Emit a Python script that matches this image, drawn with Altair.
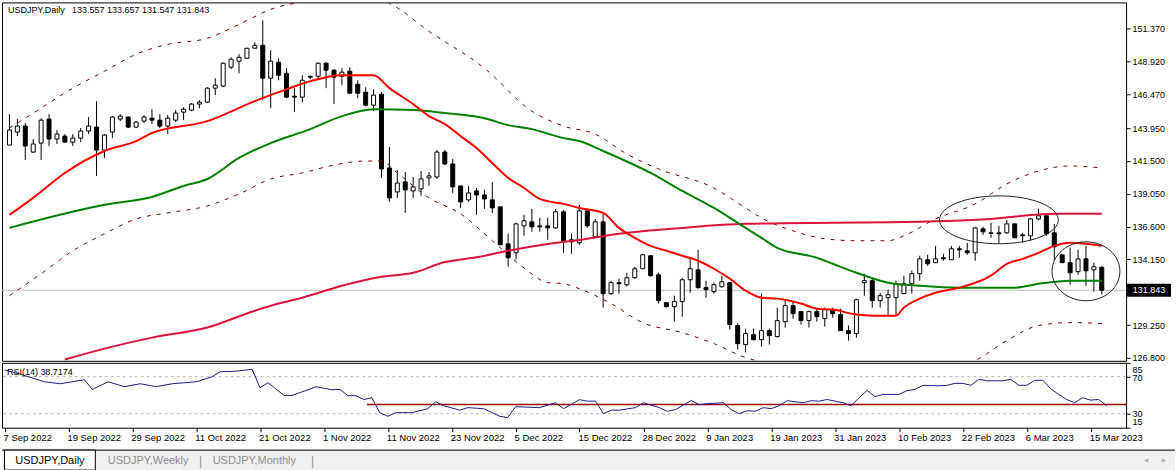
import json
import altair as alt
import pandas as pd

# ---------------- data ----------------
bars = list(range(139))
opens = [142.68,143.65,144.10,142.16,142.83,144.62,143.13,143.35,142.90,143.20,
         143.73,144.02,142.31,143.65,144.62,144.77,144.02,144.47,144.69,144.54,
         144.10,144.54,145.14,145.29,145.74,145.88,146.93,147.08,148.49,148.94,
         149.16,149.91,150.13,147.67,148.86,148.04,146.33,146.26,147.82,147.82,
         148.79,148.27,147.82,148.19,147.22,146.63,145.66,146.48,140.97,139.18,
         139.93,139.26,139.41,140.23,140.30,142.16,141.27,139.63,138.59,139.26,
         138.96,138.59,138.07,135.31,134.64,136.65,136.95,136.65,136.65,136.50,
         137.70,135.61,135.39,137.77,135.83,136.95,131.59,132.41,132.26,132.78,
         133.45,134.42,133.00,130.92,130.62,131.00,132.63,133.37,132.04,131.74,
         132.11,132.41,129.21,127.79,128.53,128.16,128.83,128.39,129.50,130.70,
         130.25,129.58,130.25,129.73,130.40,130.03,128.83,128.61,132.41,132.56,
         131.07,131.29,131.29,131.59,132.33,133.08,134.12,133.90,134.27,134.12,
         134.94,134.79,134.64,136.43,136.13,136.13,136.13,136.80,135.98,135.91,
         137.17,137.40,136.13,134.49,133.90,133.23,134.19,133.37,133.557]
highs = [144.99,144.62,144.32,143.13,144.69,144.99,143.80,143.50,143.50,143.95,
         144.77,145.96,143.50,144.84,144.99,144.84,144.47,144.92,145.36,144.99,
         144.92,145.29,145.51,145.81,146.03,147.00,147.67,148.86,149.23,149.46,
         149.91,150.35,151.99,149.76,149.16,148.42,146.93,147.89,147.82,148.86,
         148.86,148.34,148.42,148.49,147.52,147.00,146.85,146.63,142.53,140.82,
         140.67,140.30,140.75,140.67,142.31,142.31,141.64,139.63,139.63,139.48,
         139.33,139.93,138.07,136.06,136.88,137.47,137.92,137.25,137.25,137.92,
         137.84,136.06,138.22,137.77,137.17,137.55,132.56,132.71,133.15,133.60,
         134.57,134.42,133.15,130.92,131.44,132.78,134.19,134.86,132.56,132.41,
         132.93,132.41,129.36,128.98,128.98,131.59,128.98,130.55,131.07,131.07,
         130.25,130.32,130.47,130.55,130.55,130.47,129.21,131.22,133.08,132.78,
         131.66,131.89,132.56,132.93,133.30,134.42,134.49,135.16,134.57,135.16,
         135.16,135.39,136.58,136.58,136.88,136.65,137.10,136.80,136.13,137.25,
         137.92,137.40,136.80,134.49,135.01,134.86,135.16,133.90,133.657]
lows = [142.68,143.35,141.57,142.09,141.57,142.61,142.76,142.90,142.61,142.90,
        143.50,140.38,141.72,143.20,144.47,143.95,143.95,144.32,144.25,143.95,
        143.50,144.40,144.54,145.21,145.44,145.81,146.41,147.00,148.34,148.04,
        149.16,149.91,146.03,145.44,147.52,146.18,145.14,145.88,147.60,147.60,
        146.93,145.74,147.15,146.48,146.18,145.59,145.21,140.23,138.44,138.74,
        137.62,138.74,138.89,139.63,140.15,141.19,139.11,137.99,138.44,137.47,
        137.92,137.62,135.24,133.60,134.12,135.91,136.21,136.21,135.61,136.43,
        134.64,134.57,135.24,136.50,135.76,130.55,131.51,131.59,132.11,132.71,
        133.45,132.85,130.85,130.55,129.50,129.88,131.66,131.96,131.29,131.59,
        132.04,128.91,127.42,127.20,128.09,127.64,127.79,128.31,129.06,129.73,
        129.28,129.06,129.50,129.13,129.80,128.83,128.09,128.31,131.44,130.55,
        130.55,129.95,129.95,131.59,131.59,132.56,133.67,133.90,134.05,134.12,
        134.27,134.49,134.05,135.98,135.76,135.31,136.06,135.76,135.39,135.54,
        137.10,135.91,134.05,133.90,132.26,133.00,132.18,131.74,131.547]
closes = [143.80,144.10,142.61,142.76,144.54,143.13,143.50,142.90,143.20,143.73,
          144.10,142.31,143.43,144.77,144.84,144.02,144.40,144.77,144.54,144.10,
          144.69,145.07,145.36,145.74,145.88,146.93,147.15,148.79,149.09,149.23,
          149.91,150.13,147.67,148.94,147.89,146.26,146.26,147.52,147.75,148.79,
          148.27,147.75,148.12,146.55,146.55,145.66,146.41,140.90,138.74,139.85,
          139.33,139.56,140.15,140.38,142.16,141.27,139.56,138.44,139.11,138.96,
          138.66,137.99,135.24,134.27,136.80,137.03,136.58,136.58,136.50,137.70,
          135.54,135.46,137.77,136.65,136.95,131.59,132.41,132.33,132.78,133.45,
          134.49,132.93,131.07,130.62,131.00,132.63,133.45,132.04,131.89,132.26,
          132.48,129.28,127.86,128.61,128.16,128.83,128.46,129.58,130.70,130.10,
          129.58,130.25,129.88,130.40,130.10,128.83,128.61,131.14,132.56,131.07,
          131.44,131.51,132.33,132.33,133.08,134.19,133.82,134.19,134.19,134.94,
          134.86,134.64,136.50,136.21,136.08,136.06,136.80,135.76,135.91,137.17,
          137.40,136.06,135.09,133.90,133.15,134.19,133.30,133.60,131.843]

date_ticks = list(range(0, 137, 8))
date_labels = ["7 Sep 2022", "19 Sep 2022", "29 Sep 2022", "11 Oct 2022", "21 Oct 2022",
               "1 Nov 2022", "11 Nov 2022", "23 Nov 2022", "5 Dec 2022", "15 Dec 2022",
               "28 Dec 2022", "9 Jan 2023", "19 Jan 2023", "31 Jan 2023", "10 Feb 2023",
               "22 Feb 2023", "6 Mar 2023", "15 Mar 2023"]
price_ticks = [126.8, 129.25, 134.15, 136.6, 139.05, 141.5, 143.95, 146.47, 148.92, 151.37]

red_bar = [0,3,7,12,16,18,25,31,34,38,42,46,48,51,53,55,57,59,61,63,65,67,70,72,75,77,79,81,
           83,85,87,89,91,93,95,97,100,102,104,107,109,112,113,115,117,120,124,126,128,130,
           132,134,136,138]
red_val = [137.47,138.74,140.60,142.24,142.98,143.58,144.47,145.96,146.63,147.45,147.89,
           147.89,146.93,145.74,144.84,144.25,143.35,142.46,141.34,140.23,139.48,138.66,
           138.29,137.99,137.62,136.50,135.76,135.16,134.79,134.42,134.05,133.45,132.71,
           131.81,131.29,131.22,130.85,130.47,130.40,130.03,129.95,129.95,130.55,131.22,
           131.66,132.04,132.93,133.82,134.19,134.64,135.16,135.39,135.31,135.16]
green_bar = [0,12,18,22,25,29,33,38,42,46,51,55,60,63,66,70,72,75,81,85,89,92,95,97,102,104,
             107,111,115,120,124,127,130,134,138]
green_val = [136.50,138.22,138.81,139.63,140.15,141.72,142.83,143.87,144.84,145.36,145.29,
             145.07,144.69,144.17,143.87,143.20,142.98,142.24,140.60,139.26,137.99,136.88,
             135.76,135.01,134.27,133.82,133.15,132.41,132.18,132.04,132.04,132.04,132.33,
             132.56,132.56]
ma200_bar = [7,12,18,25,31,34,37,42,47,51,55,59,63,68,72,77,85,93,104,111,124,132,138]
ma200_val = [126.67,127.49,128.31,129.06,130.32,130.85,131.29,132.18,132.85,133.15,133.95,
             134.30,134.80,135.30,135.60,136.06,136.50,136.80,136.88,136.92,137.17,137.55,
             137.55]
upper_bar = [0,4,8,12,16,20,25,29,33,37,40,42,45,48,53,60,66,70,74,78,82,89,93,95,99,103,
             107,111,113,117,122,126,130,134,138]
upper_val = [143.95,145.44,146.93,148.19,149.46,150.20,150.65,151.69,152.81,153.40,153.80,
             153.95,153.80,153.26,151.17,148.42,145.21,144.10,143.50,142.01,140.90,139.48,
             137.99,137.25,136.28,135.69,135.54,135.54,135.91,137.17,138.29,139.78,140.75,
             141.12,140.97]
lower_bar = [0,4,8,12,16,20,25,29,33,37,41,45,47,49,53,57,61,65,68,70,72,76,80,85,89,93,97,
             102,107,112,117,122,126,130,134,138]
lower_val = [131.44,133.08,134.79,136.06,137.17,137.62,138.14,139.03,140.15,140.60,141.19,
             141.49,141.49,140.60,138.74,137.55,135.54,133.52,132.41,132.33,131.96,130.85,
             129.43,128.68,127.86,126.82,126.30,125.90,125.80,125.70,125.90,126.60,128.09,
             129.21,129.43,129.36]

rsi_bar = [0,2,5,7,10,11,13,15,17,19,21,24,26,27,29,31,32,33,35,36,38,39,41,42,43,44,45,46,
           47,48,49,51,53,54,55,57,58,60,62,63,64,67,69,70,72,73,74,75,76,77,79,80,82,83,84,
           86,87,88,90,91,92,93,94,95,96,97,98,100,101,102,103,105,106,107,108,109,110,112,
           113,114,115,117,118,119,120,121,122,123,125,126,127,128,129,130,131,132,133,134,
           135,136,137,138]
rsi_val = [77.4,72.6,64.5,62.4,66.7,56.3,64.5,59.2,62.4,59.2,62.4,64.5,69.9,75.3,75.9,78.0,
           58.1,63.5,49.8,49.8,55.9,59.2,55.9,56.3,49.5,49.5,45.4,47.3,31.0,27.3,31.2,31.2,
           35.5,43.0,38.7,33.9,36.6,35.5,27.3,25.8,37.6,36.6,41.9,35.5,45.2,43.6,43.6,30.1,
           33.9,33.9,36.6,41.9,36.6,32.7,34.4,44.3,39.8,40.9,41.9,34.4,30.1,33.3,32.7,36.6,
           35.5,38.7,44.1,41.9,44.1,43.6,45.4,41.9,38.7,47.3,55.2,48.4,50.9,50.9,54.9,56.3,
           60.7,60.2,60.7,62.8,62.8,60.7,67.1,65.6,65.6,67.1,60.7,60.7,66.1,66.1,57.0,50.9,
           45.4,41.9,47.3,44.7,45.4,38.72]
rsi_levels = [30, 70]
rsi_trend_start = [45.4]
rsi_trend_level = [40]

ellipse1 = {"bar": [125], "price": [137.10]}
ellipse2 = {"bar": [136], "price": [133.26]}

last_close = 131.843
ohlc_text = "USDJPY,Daily\u00a0\u00a0 133.557 133.657 131.547 131.843"
rsi_text = "RSI(14) 38.7174"
tab_labels = ["USDJPY,Daily", "USDJPY,Weekly", "USDJPY,Monthly"]

# ---------------- chart ----------------
W = 1126
H_MAIN = 359
H_RSI = 65
FONT = "Liberation Sans"
X_DOM = [-0.3125, 140.4375]

xs = alt.Scale(domain=X_DOM, nice=False, zero=False)
ys = alt.Scale(domain=[126.58, 153.33], nice=False, zero=False)
price_axis = alt.Axis(orient="right", values=price_ticks, format=".3f", tickSize=4,
                      tickColor="black", labelPadding=2, domain=False, grid=False, title=None,
                      labelFont=FONT, labelFontSize=9, labelColor="black",
                      labelOverlap=False, labelFlush=False)


def X(field="bar"):
    return alt.X(f"{field}:Q", scale=xs, axis=None)


def Y(field):
    return alt.Y(f"{field}:Q", scale=ys, axis=price_axis)


one = alt.Data(values=[{"a": 0}])

cdf = pd.DataFrame({"bar": bars, "open": opens, "high": highs, "low": lows, "close": closes})

wicks = alt.Chart(cdf).mark_rule(color="black", strokeWidth=1).encode(
    x=X(), y=Y("low"), y2=alt.Y2("high:Q"))
bodies = alt.Chart(cdf).mark_bar(size=4, stroke="black", strokeWidth=1).encode(
    x=X(), y=Y("open"), y2=alt.Y2("close:Q"),
    fill=alt.condition("datum.close >= datum.open", alt.value("white"), alt.value("black")))


def line_layer(b, v, color, width=2.0, dash=None):
    d = pd.DataFrame({"bar": b, "v": v})
    kw = dict(color=color, strokeWidth=width, clip=True, interpolate="monotone")
    if dash:
        kw["strokeDash"] = dash
    return alt.Chart(d).mark_line(**kw).encode(x=X(), y=Y("v"))


upper = line_layer(upper_bar, upper_val, "#800000", 1, [4, 6])
lower = line_layer(lower_bar, lower_val, "#800000", 1, [4, 6])
ma200 = line_layer(ma200_bar, ma200_val, "#dc143c", 2)
green = line_layer(green_bar, green_val, "#008000", 2)
red = line_layer(red_bar, red_val, "#ff0000", 2)

lastdf = pd.DataFrame({"p": [last_close], "t": [f"{last_close:.3f}"]})
hline = alt.Chart(lastdf).mark_rule(color="#c0c0c0", strokeWidth=1).encode(y=Y("p"))
box = alt.Chart(lastdf).mark_rect(color="black", width=44, height=13).encode(
    x=alt.value(W + 23), y=Y("p"))
boxtext = alt.Chart(lastdf).mark_text(color="white", font=FONT, fontSize=9, align="center",
                                       baseline="middle").encode(
    x=alt.value(W + 23), y=Y("p"), text="t:N")

e1 = alt.Chart(pd.DataFrame(ellipse1)).mark_point(
    shape="M-1,0 A1,0.403 0 1,1 1,0 A1,0.403 0 1,1 -1,0 Z", size=119 * 119, filled=False,
    stroke="#222222", strokeWidth=1, opacity=1).encode(x=X(), y=Y("price"))
e2 = alt.Chart(pd.DataFrame(ellipse2)).mark_point(
    shape="M-1,0 A1,0.868 0 1,1 1,0 A1,0.868 0 1,1 -1,0 Z", size=68 * 68, filled=False,
    stroke="#222222", strokeWidth=1, opacity=1).encode(x=X(), y=Y("price"))

title = alt.Chart(one).mark_text(text=ohlc_text, align="left", baseline="middle", font=FONT,
                                 fontSize=9, color="black").encode(
    x=alt.value(6), y=alt.value(8))

main = alt.layer(hline, wicks, bodies, upper, lower, ma200, green, red, e1, e2, box, boxtext,
                 title).properties(width=W, height=H_MAIN)

# ---- RSI panel ----
rs = alt.Scale(domain=[15, 85], nice=False, zero=False)
rsi_axis = alt.Axis(orient="right", values=[15, 30, 70, 85], tickSize=4, tickColor="black",
                    labelPadding=2, domain=False, grid=False, title=None, labelFont=FONT,
                    labelFontSize=9, labelColor="black", labelOverlap=False, labelFlush=False,
                    labelOffset={"expr": "datum.value == 85 ? 7 : datum.value == 70 ? 1 : datum.value == 15 ? -6 : 0"})
date_axis = alt.Axis(values=date_ticks, labelExpr=json.dumps(date_labels) + "[round(datum.value / 8)]",
                     labelAlign="left", labelBaseline="top", labelPadding=1, labelOffset=-1.5,
                     tickSize=4, tickColor="black", domain=False, grid=False, title=None,
                     labelFont=FONT, labelFontSize=9.5, labelColor="black",
                     labelOverlap=False, labelFlush=False)


def XR(field="bar"):
    return alt.X(f"{field}:Q", scale=xs, axis=date_axis)


def YR(field):
    return alt.Y(f"{field}:Q", scale=rs, axis=rsi_axis)


rdf = pd.DataFrame({"bar": rsi_bar, "v": rsi_val})
lvl = alt.Chart(pd.DataFrame({"v": rsi_levels})).mark_rule(
    color="#b4b4b4", strokeWidth=1, strokeDash=[3, 3]).encode(y=YR("v"))
trend = alt.Chart(pd.DataFrame({"bar": rsi_trend_start, "b2": [X_DOM[1]], "v": rsi_trend_level})).mark_rule(
    color="#990000", strokeWidth=1.5).encode(x=XR("bar"), x2="b2:Q", y=YR("v"))
rsi_line = alt.Chart(rdf).mark_line(color="#1c1c8c", strokeWidth=1).encode(x=XR(), y=YR("v"))
rsi_lab = alt.Chart(one).mark_text(text=rsi_text, align="left", baseline="middle", font=FONT,
                                   fontSize=9, color="black").encode(
    x=alt.value(5), y=alt.value(9))

# tab strip (window chrome) below the date axis
strip = alt.Chart(one).mark_rect(color="#f0f0f0").encode(
    x=alt.value(0), x2=alt.value(1175), y=alt.value(86), y2=alt.value(108))
strip_line = alt.Chart(one).mark_rule(color="#000000", strokeWidth=1).encode(
    x=alt.value(0), x2=alt.value(1175), y=alt.value(87.5))
tab = alt.Chart(one).mark_rect(fill="white", stroke="black", strokeWidth=1).encode(
    x=alt.value(2.5), x2=alt.value(93.5), y=alt.value(87.5), y2=alt.value(107.5))
tab_t1 = alt.Chart(one).mark_text(text=tab_labels[0], align="center", baseline="middle",
                                  font=FONT, fontSize=11, color="black").encode(
    x=alt.value(48), y=alt.value(98))
tab_t2 = alt.Chart(one).mark_text(text=tab_labels[1], align="left", baseline="middle",
                                  font=FONT, fontSize=11, color="#8c8c8c").encode(
    x=alt.value(106), y=alt.value(98))
tab_t3 = alt.Chart(one).mark_text(text=tab_labels[2], align="left", baseline="middle",
                                  font=FONT, fontSize=11, color="#8c8c8c").encode(
    x=alt.value(211), y=alt.value(98))
sep1 = alt.Chart(one).mark_text(text="|", align="center", baseline="middle", font=FONT,
                                fontSize=12, color="#8c8c8c").encode(
    x=alt.value(199), y=alt.value(98))
sep2 = alt.Chart(one).mark_text(text="|", align="center", baseline="middle", font=FONT,
                                fontSize=12, color="#8c8c8c").encode(
    x=alt.value(311), y=alt.value(98))
arr_l = alt.Chart(one).mark_text(text="\u25c0", align="center", baseline="middle",
                                 font="DejaVu Sans", fontSize=6, color="#b0b0b0").encode(
    x=alt.value(1146), y=alt.value(97))
arr_r = alt.Chart(one).mark_text(text="\u25b6", align="center", baseline="middle",
                                 font="DejaVu Sans", fontSize=6, color="#b0b0b0").encode(
    x=alt.value(1164), y=alt.value(97))

rsi = alt.layer(lvl, trend, rsi_line, rsi_lab, strip, strip_line, tab, tab_t1, tab_t2, tab_t3,
                sep1, sep2, arr_l, arr_r).properties(width=W, height=H_RSI)

chart = alt.vconcat(main, rsi, spacing=2, bounds="flush").properties(
    padding={"left": 1, "top": 1, "right": 0, "bottom": 0},
    background="white",
).configure_view(stroke="black", strokeWidth=1)

chart.save("out.html", embed_options={"renderer": "svg", "actions": False})
